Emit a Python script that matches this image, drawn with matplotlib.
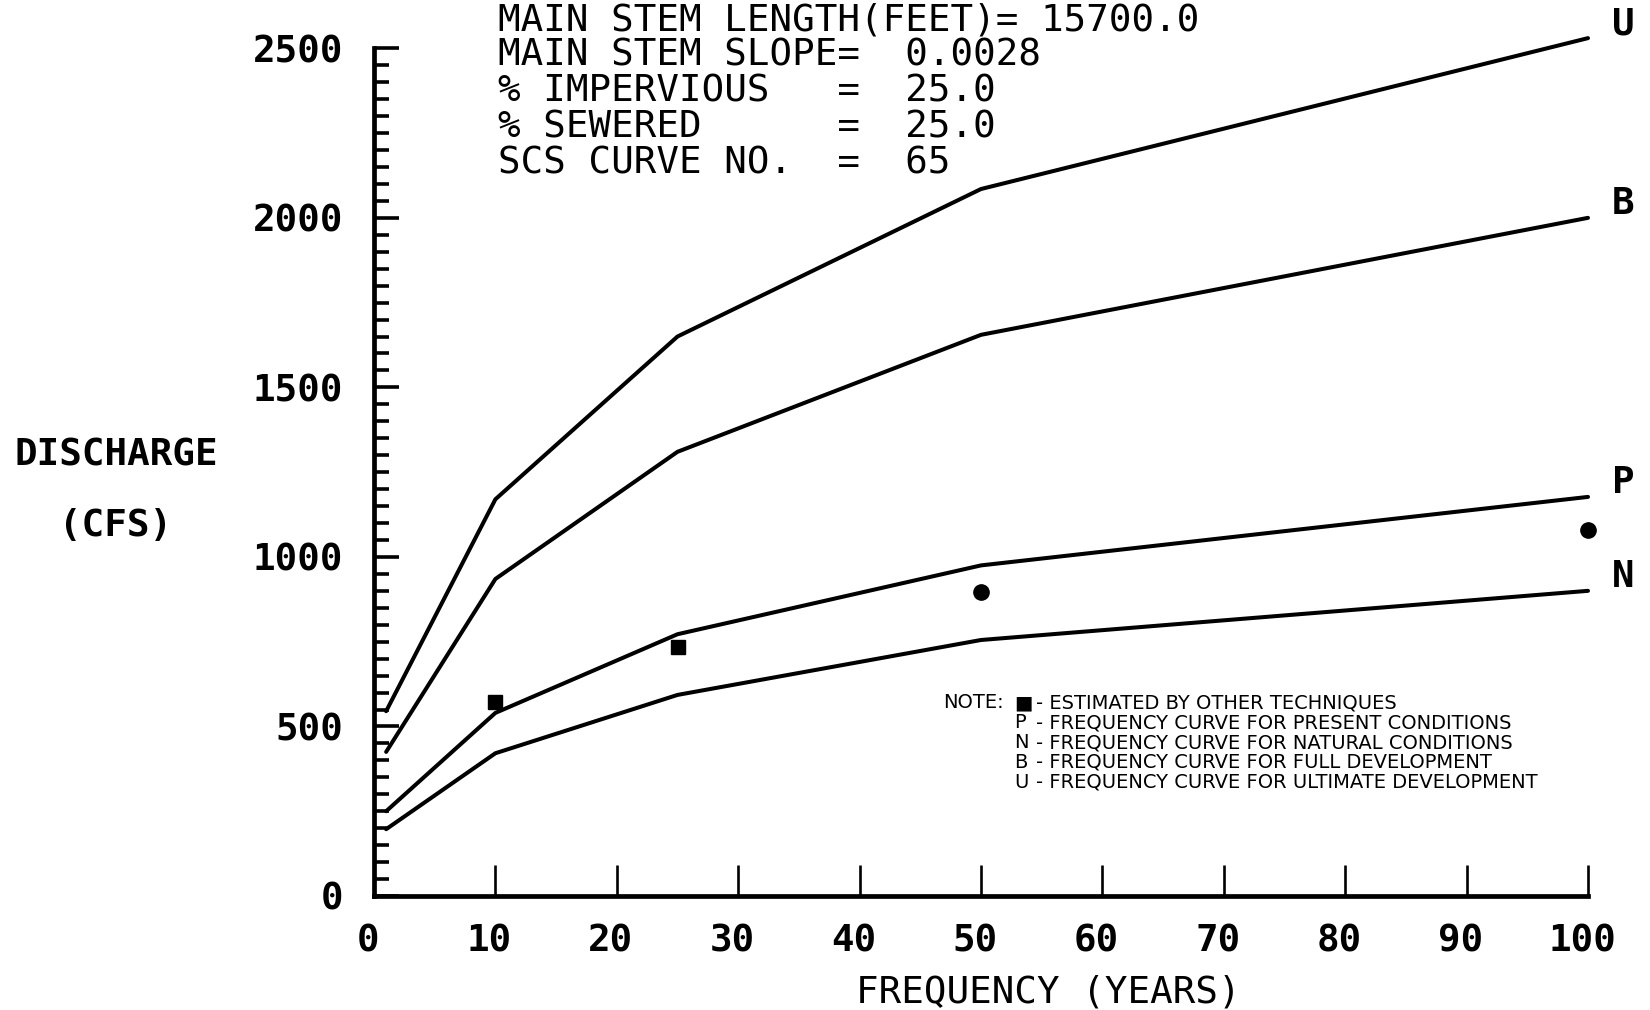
import matplotlib
matplotlib.use('Agg')
import matplotlib.pyplot as plt
import matplotlib.transforms as mtransforms
from matplotlib.ticker import MultipleLocator

# -- Data ---------------------------------------------------------------------
years = [1, 10, 25, 50, 100]
curve_u = [545, 1170, 1650, 2085, 2530]
curve_b = [425, 935, 1310, 1655, 2000]
curve_p = [250, 540, 772, 975, 1177]
curve_n = [197, 421, 593, 755, 900]
curve_names = ['U', 'B', 'P', 'N']

est_years = [10, 25, 50, 100]
est_cfs = [573, 735, 898, 1080]

header_lines = [
    'MAIN STEM LENGTH(FEET)= 15700.0',
    'MAIN STEM SLOPE=  0.0028',
    '% IMPERVIOUS   =  25.0',
    '% SEWERED      =  25.0',
    'SCS CURVE NO.  =  65',
]
note_keys = ['\u25a0', 'P', 'N', 'B', 'U']
note_texts = [
    '- ESTIMATED BY OTHER TECHNIQUES',
    '- FREQUENCY CURVE FOR PRESENT CONDITIONS',
    '- FREQUENCY CURVE FOR NATURAL CONDITIONS',
    '- FREQUENCY CURVE FOR FULL DEVELOPMENT',
    '- FREQUENCY CURVE FOR ULTIMATE DEVELOPMENT',
]

# -- Style --------------------------------------------------------------------
W, H = 1650, 1010
MONO = 'DejaVu Sans Mono'
INK = 'black'

fig = plt.figure(figsize=(W / 100, H / 100), dpi=100, facecolor='white')
ax = fig.add_axes([374 / W, 1 - 896 / H, 1214 / W, 847.7 / H])
ax.set_xlim(0, 100)
ax.set_ylim(0, 2500)

for side in ('top', 'right'):
    ax.spines[side].set_visible(False)
for side in ('left', 'bottom'):
    ax.spines[side].set_linewidth(3.4)
    ax.spines[side].set_color(INK)

ax.xaxis.set_major_locator(MultipleLocator(10))
ax.yaxis.set_major_locator(MultipleLocator(500))
ax.yaxis.set_minor_locator(MultipleLocator(50))
ax.tick_params(axis='x', which='major', direction='in', length=22, width=1.9,
               pad=20, labelsize=27, colors=INK)
ax.tick_params(axis='y', which='major', direction='in', length=18, width=2.6,
               pad=22, labelsize=27, colors=INK)
ax.tick_params(axis='y', which='minor', direction='in', length=11, width=2.6)
for lab in ax.get_xticklabels() + ax.get_yticklabels():
    lab.set_fontfamily(MONO)
    lab.set_fontweight('bold')
shift = mtransforms.ScaledTranslation(-6 / 100, 0, fig.dpi_scale_trans)
for lab in ax.get_xticklabels():
    lab.set_transform(lab.get_transform() + shift)

# -- Curves -------------------------------------------------------------------
for name, vals in zip(curve_names, [curve_u, curve_b, curve_p, curve_n]):
    ax.plot(years, vals, color=INK, linewidth=2.9, solid_joinstyle='round',
            solid_capstyle='round', clip_on=False, zorder=3)
    ax.annotate(name, (years[-1], vals[-1]), xytext=(35, 14),
                textcoords='offset pixels', ha='center', va='center',
                fontsize=27, fontfamily=MONO, fontweight='bold',
                annotation_clip=False)

ax.plot(est_years[:2], est_cfs[:2], linestyle='none', marker='s',
        markersize=10.5, color=INK, clip_on=False, zorder=4)
ax.plot(est_years[2:], est_cfs[2:], linestyle='none', marker='o',
        markersize=11, color=INK, clip_on=False, zorder=4)

# -- Texts --------------------------------------------------------------------
for i, line in enumerate(header_lines):
    fig.text(498 / W, 1 - (20 + 35.8 * i) / H, line, fontsize=27,
             fontfamily=MONO, ha='left', va='center')

fig.text(116 / W, 1 - 456 / H, 'DISCHARGE', fontsize=27, fontfamily=MONO,
         fontweight='bold', ha='center', va='center')
fig.text(116 / W, 1 - 526 / H, '(CFS)', fontsize=27, fontfamily=MONO,
         fontweight='bold', ha='center', va='center')
fig.text(1048 / W, 1 - 992 / H, 'FREQUENCY (YEARS)', fontsize=27,
         fontfamily=MONO, ha='center', va='center')

fig.text(943 / W, 1 - 703 / H, 'NOTE:', fontsize=14, ha='left', va='center')
for i, (key, txt) in enumerate(zip(note_keys, note_texts)):
    y = 1 - (703 + 19.8 * i) / H
    fig.text(1014 / W, y, key, fontsize=14, ha='left', va='center')
    fig.text(1036 / W, y, txt, fontsize=14, ha='left', va='center')

fig.savefig('out.png', dpi=100, facecolor='white')
